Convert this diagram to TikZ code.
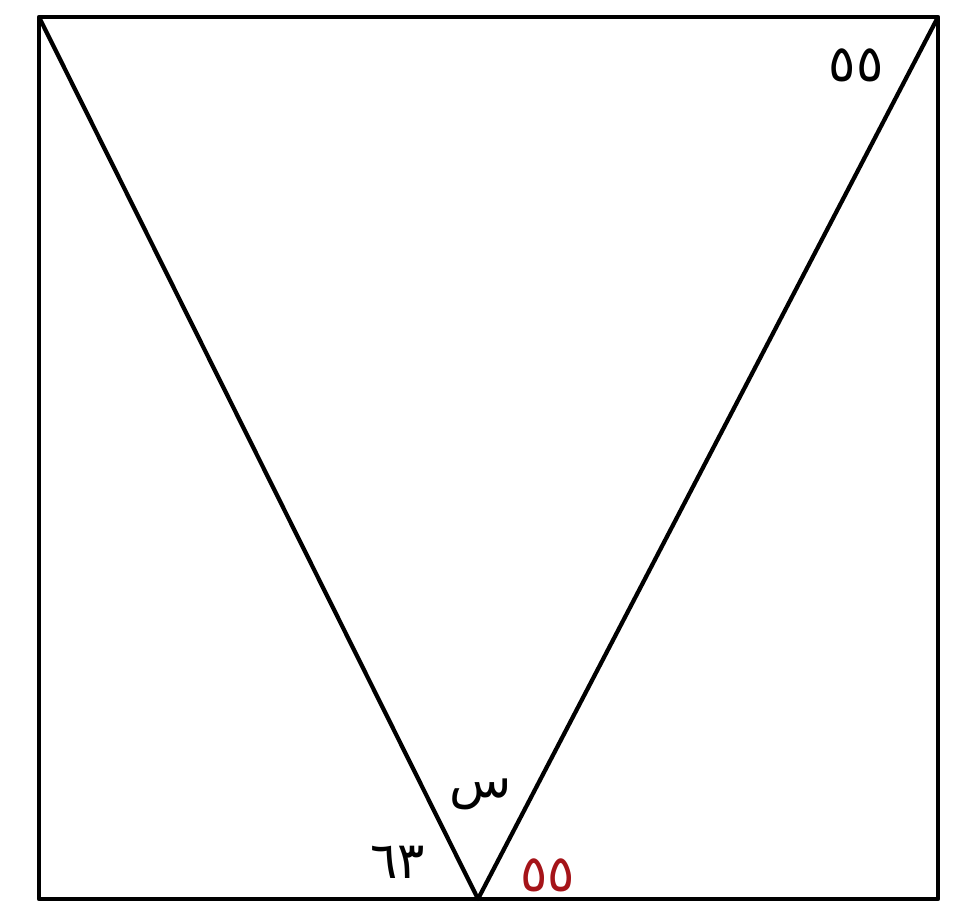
\documentclass[tikz,border=0pt]{standalone}
\usepackage{fontspec}
\newfontfamily\arabicfont[Script=Arabic]{DejaVu Sans}
\TeXXeTstate=1
\definecolor{darkred}{RGB}{165,20,25}
\begin{document}
\begin{tikzpicture}[line width=2.4pt, line join=round,
    lbl/.style={font=\arabicfont\fontsize{29}{34}\selectfont, inner sep=0pt}]
    \useasboundingbox (0,0) rectangle (19.36,18.3);

    \coordinate (bl) at (0.78,0.32);
    \coordinate (br) at (18.76,0.32);
    \coordinate (tr) at (18.76,17.96);
    \coordinate (tl) at (0.78,17.96);
    \coordinate (v)  at (9.56,0.32);

    \draw (bl) -- (br) -- (tr) -- (tl) -- cycle;
    \draw (tl) -- (v) -- (tr);

    \node[lbl] (top) at (17.12,17.0) {٥٥};
    \node[lbl] (x)   at (9.62,2.42) {\beginR س\endR};
    \node[lbl] (ang) at (7.96,1.06) {٦٣};
    \node[lbl, text=darkred] (bot) at (10.96,0.8) {٥٥};
\end{tikzpicture}
\end{document}
